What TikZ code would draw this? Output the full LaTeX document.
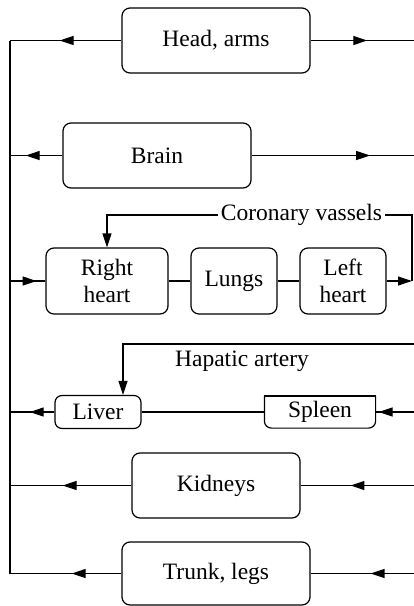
\documentclass[tikz,border=0pt]{standalone}
\usepackage{fontspec}
\setmainfont{Liberation Serif}
\usetikzlibrary{arrows.meta,decorations.markings}
\begin{document}
\begin{tikzpicture}[x=1pt,y=-1pt, line width=1.2pt,
  font=\fontsize{23.5}{27}\selectfont,
  box/.style={draw, rounded corners=8pt, inner sep=0pt, align=center},
  arrowat/.style={postaction={decorate}, decoration={markings, mark=at position #1 with {\arrow{Triangle[length=14pt,width=9pt]}}}},
  endarrow/.style={-{Triangle[length=14pt,width=9pt]}}]
\useasboundingbox (0,0) rectangle (414,606);

% nodes
\node[box, minimum width=188pt, minimum height=65pt] (HA) at (216,40.5) {Head, arms};
\node[box, minimum width=188pt, minimum height=65pt] (BR) at (157,155.5) {Brain};
\node[box, minimum width=122pt, minimum height=66pt] (RH) at (107,281) {Right\\heart};
\node[box, minimum width=86pt, minimum height=66pt] (LU) at (234,281) {Lungs};
\node[box, minimum width=86pt, minimum height=66pt] (LH) at (343,281) {Left\\heart};
\node[box, minimum width=86pt, minimum height=33pt, rounded corners=7pt] (LI) at (98,412) {Liver};
\node[inner sep=0pt, minimum width=110pt, minimum height=31pt] (SP) at (320,412) {Spleen};
\node[box, minimum width=168pt, minimum height=65pt] (KI) at (216,485.5) {Kidneys};
\node[box, minimum width=188pt, minimum height=63pt] (TL) at (216,573.5) {Trunk, legs};

% spleen outline (flat top)
\draw[rounded corners=7pt] (SP.north west) -- (SP.south west) -- (SP.south east) -- (SP.north east);
\draw[line cap=rect] (SP.north west) -- (SP.north east);

% coordinates
\coordinate (L1) at (10,40.5);
\coordinate (L2) at (10,155.5);
\coordinate (L3) at (10,281);
\coordinate (L4) at (10,412);
\coordinate (L5) at (10,485.5);
\coordinate (L6) at (10,573.5);
\coordinate (R1) at (414,40.5);
\coordinate (R2) at (414,155.5);
\coordinate (R4) at (414,412);
\coordinate (R5) at (414,485.5);
\coordinate (R6) at (414,573.5);
\coordinate (cR) at (412,281);
\coordinate (cT) at (412,215);
\coordinate (cL) at (107,215);
\coordinate (hR) at (414,344);
\coordinate (hL) at (123,344);

% left collector
\draw (L1) -- (L6);

% head, arms
\draw[arrowat=0.554] (HA.west) -- (L1);
\draw[arrowat=0.548] (HA.east) -- (R1);
% brain
\draw[arrowat=0.70] (BR.west) -- (L2);
\draw[arrowat=0.73] (BR.east) -- (R2);
% heart-lung
\draw[arrowat=0.75] (L3) -- (RH.west);
\draw (RH.east) -- (LU.west);
\draw (LU.east) -- (LH.west);
\draw[endarrow] (LH.east) -- (cR);
\draw[endarrow] (cR) -- (cT) -- (cL) -- (RH.north);
\node[fill=white, inner sep=3pt] (CV) at (301.5,215) {Coronary vassels};
% hepatic
\draw[endarrow] (hR) -- (hL) -- (hL |- LI.north);
\node (HP) at (242,361) {Hapatic artery};
% liver, spleen
\draw[arrowat=0.556] (LI.west) -- (L4);
\draw (LI.east) -- (SP.west);
\draw[arrowat=0.92] (R4) -- (SP.east);
% kidneys
\draw[arrowat=0.566] (KI.west) -- (L5);
\draw[arrowat=0.56] (R5) -- (KI.east);
% trunk, legs
\draw[arrowat=0.446] (TL.west) -- (L6);
\draw[arrowat=0.42] (R6) -- (TL.east);
\end{tikzpicture}
\end{document}
